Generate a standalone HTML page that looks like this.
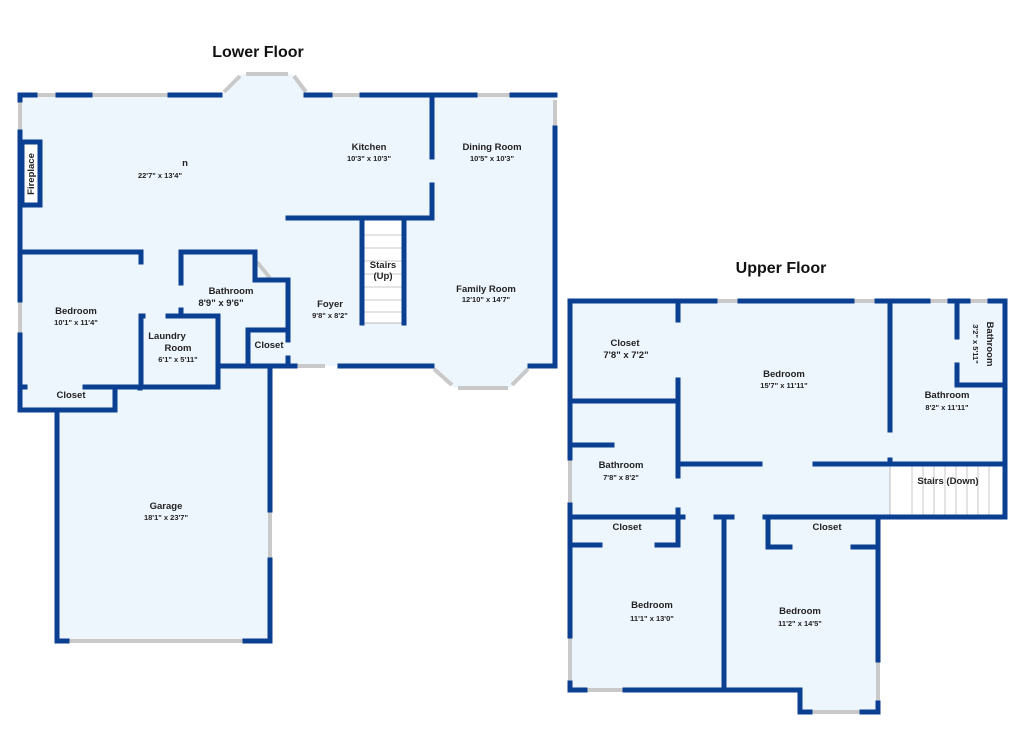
<!DOCTYPE html>
<html><head><meta charset="utf-8"><style>
html,body{margin:0;padding:0;background:#fff;}
svg{display:block}
text{font-family:"Liberation Sans",sans-serif;fill:#222;text-anchor:middle;}
.n{font-size:9.5px;font-weight:bold}
.d{font-size:7.5px;font-weight:bold}
.t{font-size:16px;font-weight:bold;fill:#111}
</style></head><body>
<svg width="1024" height="731" viewBox="0 0 1024 731" xmlns="http://www.w3.org/2000/svg">
<g fill="#eef6fd" stroke="none">
<polygon points="20,95 220,95 242,74 292,74 308,95 555,95 555,366 530,366 510,388 455,388 432,366 270,366 270,641 57,641 57,410 20,410"/>
<polygon points="570,301 1005,301 1005,517 878,517 878,712 800,712 800,690 570,690"/>
</g>
<g fill="#fff" stroke="#bbb" stroke-width="1">
<rect x="362" y="218" width="42" height="105"/>
<rect x="22" y="142" width="18" height="63"/>
<rect x="890" y="466" width="115" height="51"/>
</g>
<g stroke="#c8c8c8" stroke-width="1">
<line x1="362" y1="235" x2="404" y2="235"/><line x1="362" y1="248" x2="404" y2="248"/><line x1="362" y1="261" x2="404" y2="261"/><line x1="362" y1="274" x2="404" y2="274"/><line x1="362" y1="287" x2="404" y2="287"/><line x1="362" y1="300" x2="404" y2="300"/><line x1="362" y1="312" x2="404" y2="312"/>
<line x1="912" y1="466" x2="912" y2="517"/><line x1="923" y1="466" x2="923" y2="517"/><line x1="934" y1="466" x2="934" y2="517"/><line x1="945" y1="466" x2="945" y2="517"/><line x1="956" y1="466" x2="956" y2="517"/><line x1="967" y1="466" x2="967" y2="517"/><line x1="978" y1="466" x2="978" y2="517"/><line x1="989" y1="466" x2="989" y2="517"/>
</g>
<!-- windows -->
<g stroke="#c9c9c9" stroke-width="4" fill="none">
<line x1="35" y1="95" x2="58" y2="95"/><line x1="90" y1="95" x2="170" y2="95"/>
<line x1="224" y1="92" x2="240" y2="76"/><line x1="246" y1="74" x2="288" y2="74"/><line x1="294" y1="76" x2="306" y2="92"/>
<line x1="330" y1="95" x2="362" y2="95"/><line x1="475" y1="95" x2="512" y2="95"/>
<line x1="20" y1="100" x2="20" y2="132"/><line x1="20" y1="300" x2="20" y2="335"/>
<line x1="555" y1="100" x2="555" y2="128"/>
<line x1="295" y1="366" x2="325" y2="366"/>
<line x1="434" y1="369" x2="452" y2="385"/><line x1="458" y1="388" x2="508" y2="388"/><line x1="512" y1="385" x2="528" y2="369"/>
<line x1="270" y1="510" x2="270" y2="560"/><line x1="67" y1="641" x2="245" y2="641"/>
<line x1="715" y1="301" x2="740" y2="301"/><line x1="852" y1="301" x2="877" y2="301"/>
<line x1="928" y1="301" x2="950" y2="301"/><line x1="968" y1="301" x2="990" y2="301"/>
<line x1="570" y1="458" x2="570" y2="505"/><line x1="570" y1="636" x2="570" y2="683"/>
<line x1="585" y1="690" x2="625" y2="690"/><line x1="878" y1="660" x2="878" y2="703"/><line x1="810" y1="712" x2="862" y2="712"/>
<line x1="257" y1="262" x2="270" y2="278"/>
</g>
<g stroke="#0b3f92" stroke-width="5" fill="none" stroke-linecap="square">
<!-- lower outer -->
<polyline points="35,95 20,95 20,100"/><line x1="58" y1="95" x2="90" y2="95"/><line x1="170" y1="95" x2="220" y2="95"/>
<line x1="306" y1="95" x2="330" y2="95"/><line x1="362" y1="95" x2="475" y2="95"/><line x1="512" y1="95" x2="555" y2="95"/>
<line x1="555" y1="128" x2="555" y2="366"/><line x1="555" y1="366" x2="530" y2="366"/>
<line x1="432" y1="366" x2="340" y2="366"/><line x1="295" y1="366" x2="218" y2="366"/>
<line x1="20" y1="132" x2="20" y2="300"/><line x1="20" y1="335" x2="20" y2="410"/>
<polyline points="20,410 115,410 115,388"/>
<line x1="20" y1="387" x2="25" y2="387"/><line x1="85" y1="387" x2="218" y2="387"/>
<line x1="57" y1="410" x2="57" y2="641"/><line x1="57" y1="641" x2="67" y2="641"/><line x1="245" y1="641" x2="270" y2="641"/>
<line x1="270" y1="366" x2="270" y2="510"/><line x1="270" y1="560" x2="270" y2="641"/>
<!-- fireplace -->
<rect x="22" y="142" width="18" height="63"/>
<!-- bedroom/laundry -->
<polyline points="20,252 141,252 141,262"/><line x1="141" y1="318" x2="141" y2="387"/>
<line x1="141" y1="316" x2="143" y2="316"/><polyline points="168,316 218,316 218,387"/>
<line x1="140" y1="387" x2="140" y2="388"/>
<!-- bathroom -->
<polyline points="181,283 181,252 255,252 255,280 288,280 288,340"/><line x1="288" y1="358" x2="288" y2="366"/>
<line x1="181" y1="310" x2="181" y2="316"/>
<polyline points="248,366 248,330 288,330"/>
<!-- kitchen -->
<line x1="432" y1="95" x2="432" y2="157"/><polyline points="432,185 432,218 288,218"/>
<!-- stairs -->
<line x1="362" y1="218" x2="362" y2="323"/><line x1="404" y1="218" x2="404" y2="323"/>

<!-- upper outer -->
<line x1="570" y1="301" x2="715" y2="301"/><line x1="740" y1="301" x2="852" y2="301"/><line x1="877" y1="301" x2="928" y2="301"/><line x1="950" y1="301" x2="968" y2="301"/><line x1="990" y1="301" x2="1005" y2="301"/>
<polyline points="1005,301 1005,517 878,517"/>
<line x1="570" y1="301" x2="570" y2="458"/><line x1="570" y1="505" x2="570" y2="636"/><line x1="570" y1="683" x2="570" y2="690"/>
<line x1="570" y1="690" x2="585" y2="690"/><polyline points="625,690 800,690 800,712 810,712"/>
<polyline points="862,712 878,712 878,703"/><line x1="878" y1="660" x2="878" y2="517"/>
<!-- interior -->
<line x1="678" y1="301" x2="678" y2="320"/><line x1="678" y1="380" x2="678" y2="476"/><line x1="678" y1="510" x2="678" y2="545"/>
<line x1="570" y1="401" x2="678" y2="401"/>
<line x1="570" y1="445" x2="612" y2="445"/>
<line x1="890" y1="301" x2="890" y2="430"/><line x1="890" y1="460" x2="890" y2="464"/>
<line x1="678" y1="464" x2="760" y2="464"/><line x1="815" y1="464" x2="1005" y2="464"/>
<line x1="957" y1="301" x2="957" y2="337"/><polyline points="957,365 957,385 1005,385"/>
<line x1="570" y1="517" x2="683" y2="517"/><line x1="716" y1="517" x2="732" y2="517"/><line x1="765" y1="517" x2="878" y2="517"/>
<line x1="724" y1="517" x2="724" y2="690"/>
<line x1="570" y1="545" x2="600" y2="545"/><line x1="657" y1="545" x2="678" y2="545"/>
<polyline points="768,517 768,547 790,547"/><line x1="853" y1="547" x2="878" y2="547"/>
</g>
<text class="t" x="258" y="57">Lower Floor</text>
<text class="t" x="781" y="273">Upper Floor</text>
<text class="n" x="185" y="166">n</text><text class="d" x="160" y="178">22'7" x 13'4"</text>
<text class="n" x="369" y="150">Kitchen</text><text class="d" x="369" y="161">10'3" x 10'3"</text>
<text class="n" x="492" y="150">Dining Room</text><text class="d" x="492" y="161">10'5" x 10'3"</text>
<text class="n" transform="translate(34,174) rotate(-90)">Fireplace</text>
<text class="n" x="383" y="268">Stairs</text><text class="n" x="383" y="279">(Up)</text>
<text class="n" x="486" y="292">Family Room</text><text class="d" x="486" y="302">12'10" x 14'7"</text>
<text class="n" x="330" y="307">Foyer</text><text class="d" x="330" y="318">9'8" x 8'2"</text>
<text class="n" x="231" y="294">Bathroom</text><text class="n" x="221" y="306">8'9" x 9'6"</text>
<text class="n" x="76" y="314">Bedroom</text><text class="d" x="76" y="325">10'1" x 11'4"</text>
<text class="n" x="167" y="339">Laundry</text><text class="n" x="178" y="351">Room</text><text class="d" x="178" y="362">6'1" x 5'11"</text>
<text class="n" x="269" y="348">Closet</text>
<text class="n" x="71" y="398">Closet</text>
<text class="n" x="166" y="509">Garage</text><text class="d" x="166" y="520">18'1" x 23'7"</text>
<text class="n" x="625" y="346">Closet</text><text class="n" x="626" y="358">7'8" x 7'2"</text>
<text class="n" x="784" y="377">Bedroom</text><text class="d" x="784" y="388">15'7" x 11'11"</text>
<text class="n" x="947" y="398">Bathroom</text><text class="d" x="947" y="410">8'2" x 11'11"</text>
<text class="n" transform="translate(987,344) rotate(90)">Bathroom</text>
<text class="d" transform="translate(973,344) rotate(90)">3'2" x 5'11"</text>
<text class="n" x="621" y="468">Bathroom</text><text class="d" x="621" y="480">7'8" x 8'2"</text>
<text class="n" x="948" y="484">Stairs (Down)</text>
<text class="n" x="627" y="530">Closet</text>
<text class="n" x="827" y="530">Closet</text>
<text class="n" x="652" y="608">Bedroom</text><text class="d" x="652" y="621">11'1" x 13'0"</text>
<text class="n" x="800" y="614">Bedroom</text><text class="d" x="800" y="626">11'2" x 14'5"</text>
</svg>
</body></html>
